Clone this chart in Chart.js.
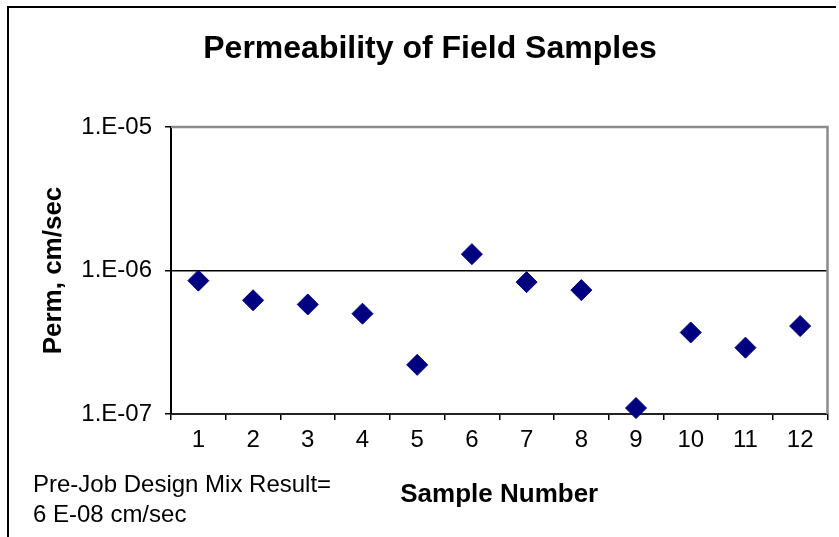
<!DOCTYPE html>
<html>
<head>
<meta charset="utf-8">
<script src="https://cdn.jsdelivr.net/npm/chart.js@4"></script>
<style>
  body { margin: 0; background: #fff; }
  #wrap { position: relative; width: 839px; height: 537px; }
</style>
</head>
<body>
<div id="wrap"><canvas id="permChart" width="839" height="537"></canvas></div>
<script>
// Chart data
const samples = ["1", "2", "3", "4", "5", "6", "7", "8", "9", "10", "11", "12"];
const permValues = [8.5e-7, 6.2e-7, 5.8e-7, 5.0e-7, 2.2e-7, 1.3e-6, 8.3e-7, 7.3e-7, 1.1e-7, 3.7e-7, 2.9e-7, 4.1e-7];
const yTicks = [1e-7, 1e-6, 1e-5];
const chartTitle = "Permeability of Field Samples";
const xTitle = "Sample Number";
const yTitle = "Perm, cm/sec";
const noteLines = ["Pre-Job Design Mix Result=", "6 E-08 cm/sec"];

const FONT = "'Liberation Sans', Arial, sans-serif";

// Titles, note, frame and plot border
const decorations = {
  id: "decorations",
  beforeDraw(chart) {
    const c = chart.ctx;
    c.save();
    c.fillStyle = "#fff";
    c.fillRect(0, 0, chart.width, chart.height);
    c.restore();
  },
  afterDraw(chart) {
    const c = chart.ctx;
    const a = chart.chartArea;
    c.save();
    // outer frame
    c.strokeStyle = "#000";
    c.lineWidth = 2;
    c.beginPath();
    c.moveTo(8, 537);
    c.lineTo(8, 7);
    c.lineTo(836, 7);
    c.stroke();
    // plot border top/right
    c.strokeStyle = "#8c8c8c";
    c.lineWidth = 2.5;
    c.beginPath();
    c.moveTo(a.left, a.top);
    c.lineTo(a.right, a.top);
    c.lineTo(a.right, a.bottom);
    c.stroke();

    c.fillStyle = "#000";
    c.textAlign = "center";
    c.textBaseline = "alphabetic";
    c.font = "bold 32px " + FONT;
    c.fillText(chartTitle, 430, 58);
    c.font = "bold 26px " + FONT;
    c.fillText(xTitle, (a.left + a.right) / 2, 502);
    c.save();
    c.translate(61, (a.top + a.bottom) / 2);
    c.rotate(-Math.PI / 2);
    c.fillText(yTitle, 0, 0);
    c.restore();
    c.textAlign = "left";
    c.font = "24px " + FONT;
    c.fillText(noteLines[0], 33, 492);
    c.fillText(noteLines[1], 33, 522);
    c.restore();
  }
};

const ctx = document.getElementById("permChart").getContext("2d");
new Chart(ctx, {
  type: "line",
  data: {
    labels: samples,
    datasets: [{
      data: permValues,
      showLine: false,
      pointStyle: "rectRot",
      pointRadius: 10.5,
      pointBackgroundColor: "#000080",
      pointBorderColor: "#000080",
      pointBorderWidth: 1,
      clip: false
    }]
  },
  options: {
    responsive: false,
    animation: false,
    layout: { padding: { left: 0, top: 127, right: 10, bottom: 0 } },
    plugins: { legend: { display: false }, tooltip: { enabled: false } },
    scales: {
      x: {
        type: "category",
        offset: true,
        grid: { offset: true, drawOnChartArea: false, drawTicks: true, tickLength: 6, color: "#000", lineWidth: 1.5 },
        border: { color: "#222", width: 2 },
        ticks: { color: "#000", font: { family: FONT, size: 24 }, padding: 6, maxRotation: 0, autoSkip: false },
        afterFit(scale) { scale.height = 123; }
      },
      y: {
        type: "logarithmic",
        min: 1e-7,
        max: 1e-5,
        afterBuildTicks(scale) { scale.ticks = yTicks.map(v => ({ value: v, major: true })); },
        grid: { color: "#000", lineWidth: 1.5, tickLength: 6 },
        border: { color: "#000", width: 2 },
        ticks: {
          color: "#000",
          font: { family: FONT, size: 24 },
          padding: 13,
          callback(v) {
            const e = Math.round(Math.log10(v));
            return "1.E-" + String(-e).padStart(2, "0");
          }
        },
        afterFit(scale) { scale.width = 171; }
      }
    }
  },
  plugins: [decorations]
});
</script>
</body>
</html>
